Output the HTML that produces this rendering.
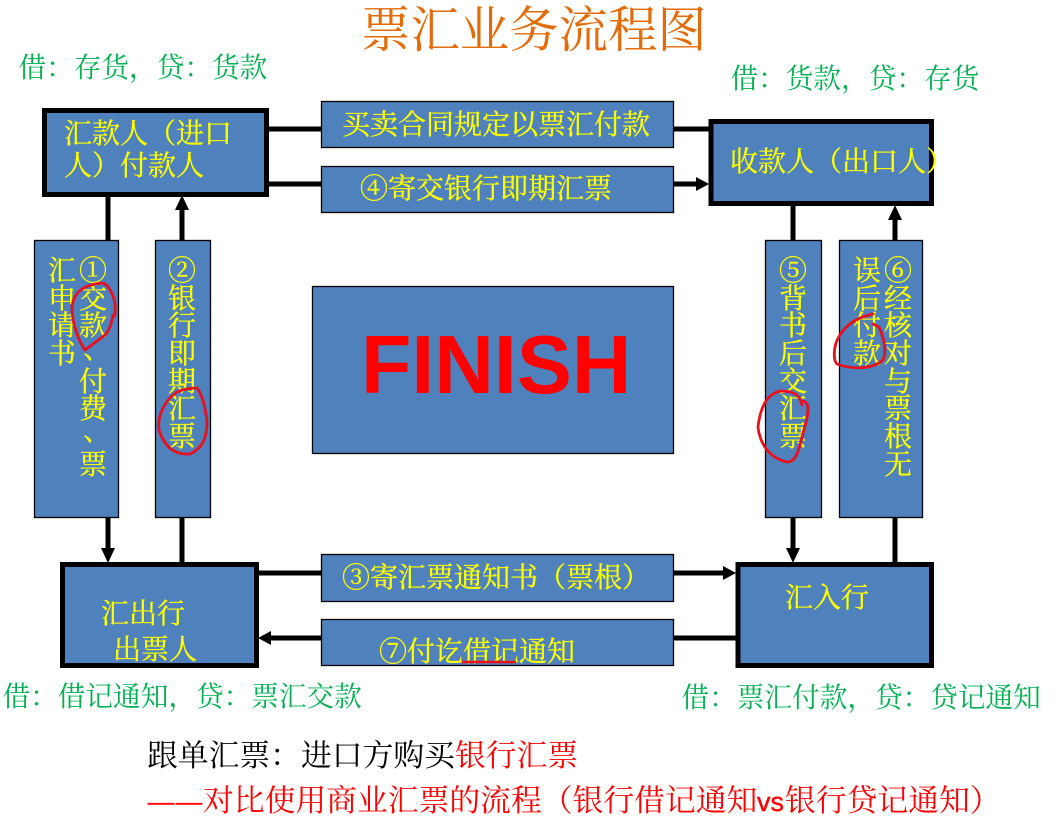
<!DOCTYPE html>
<html>
<head>
<meta charset="utf-8">
<style>
html,body{margin:0;padding:0;background:#fff;width:1058px;height:820px;overflow:hidden}
svg{display:block}
text{font-family:"Liberation Serif","Noto Serif CJK SC",serif;white-space:pre}
.y{fill:#ffff00;font-size:28px;stroke:#ffff00;stroke-width:.35}
.v{text-anchor:middle}
.g{fill:#00b050;font-size:27.65px}
.f{font-size:30.8px}
.b{fill:#4f81bd;stroke:#000;stroke-width:1.3}
.t{fill:#4f81bd;stroke:#000;stroke-width:5}
.l{stroke:#000;stroke-width:5;fill:none}
.r{stroke:#e8101c;stroke-width:2.8;fill:none;stroke-linejoin:round;stroke-linecap:round}
</style>
</head>
<body>
<svg width="1058" height="820" viewBox="0 0 1058 820" xmlns="http://www.w3.org/2000/svg">
<!-- connectors -->
<path class="l" d="M269 129H321M674 129H709M269 184H321M674 184H698M108 197V240M108 517V550M182 209V240M182 517V562M793 206V240M793 517V550M895 218V240M895 517V562M259 573H321M674 573H724M271 638H321M674 638H736"/>
<polygon points="709,184 696,177 696,191"/>
<polygon points="736,573 723,566 723,580"/>
<polygon points="258,638 271,631 271,645"/>
<polygon points="182,195 175,210 189,210"/>
<polygon points="895,205 888,220 902,220"/>
<polygon points="108,563 101,548 115,548"/>
<polygon points="793,563 786,548 800,548"/>
<!-- thick boxes -->
<rect class="t" x="44.5" y="110.5" width="222" height="84"/>
<rect class="t" x="711" y="121.5" width="220.500" height="82"/>
<rect class="t" x="62.5" y="564.5" width="194" height="101"/>
<rect class="t" x="738" y="564.5" width="193.500" height="101"/>
<!-- thin boxes -->
<rect class="b" x="321.5" y="101.5" width="352" height="46"/>
<rect class="b" x="321.5" y="166.5" width="352" height="46"/>
<rect class="b" x="321.5" y="554.5" width="352" height="47"/>
<rect class="b" x="321.5" y="619.5" width="352" height="46"/>
<rect class="b" x="34.5" y="240.5" width="84" height="277"/>
<rect class="b" x="155.5" y="240.5" width="55" height="277"/>
<rect class="b" x="765.5" y="240.5" width="56" height="277"/>
<rect class="b" x="839.5" y="240.5" width="83" height="277"/>
<rect class="b" x="312.5" y="286.5" width="361" height="167"/>
<!-- title and accounting labels -->
<text x="361" y="47" style="font-size:49.4px;fill:#e36c0a">票汇业务流程图</text>
<text class="g" x="18.500" y="77">借：存货，贷：货款</text>
<text class="g" x="730.500" y="88">借：货款，贷：存货</text>
<text class="g" x="2.500" y="706">借：借记通知，贷：票汇交款</text>
<text class="g" x="681.500" y="707">借：票汇付款，贷：贷记通知</text>
<!-- box labels -->
<text class="y" x="64" y="143">汇款人（进口</text>
<text class="y" x="64" y="175">人）付款人</text>
<text class="y" x="730" y="171">收款人（出口人）</text>
<text class="y" x="342" y="134">买卖合同规定以票汇付款</text>
<text class="y" x="360" y="198">④寄交银行即期汇票</text>
<text class="y" x="342" y="587">③寄汇票通知书（票根）</text>
<text class="y" x="379" y="661">⑦付讫借记通知</text>
<text class="y" x="101" y="623">汇出行</text>
<text class="y" x="113" y="659">出票人</text>
<text class="y" x="785" y="607">汇入行</text>
<!-- vertical labels -->
<text class="y v" x="93 93 93 97 93 93 97 93" y="280 308 335 358 391 418 440 474">①交款、付费、票</text>
<text class="y v" x="62 62 62 62" y="280 308 335 363">汇申请书</text>
<text class="y v" x="182 182 182 182 182 182 182" y="280 308 335 363 391 418 446">②银行即期汇票</text>
<text class="y v" x="793 793 793 793 793 793 793" y="280 308 335 363 391 418 446">⑤背书后交汇票</text>
<text class="y v" x="898 898 898 898 898 898 898 898" y="280 308 335 363 391 418 446 474">⑥经核对与票根无</text>
<text class="y v" x="867 867 867 867" y="280 308 335 363">误后付款</text>
<!-- center -->
<text x="361" y="393" style="font-family:'Liberation Sans',sans-serif;font-weight:bold;font-size:82.500px;fill:#ff0000">FINISH</text>
<!-- footer -->
<text class="f" x="147" y="766" fill="#000">跟单汇票：进口方购买<tspan fill="#ff0000">银行汇票</tspan></text>
<text x="148 176" y="810" style="font-size:26px;fill:#ff0000;stroke:#ff0000;stroke-width:.5">——</text>
<text class="f" x="203" y="811" fill="#ff0000">对比使用商业汇票的流程（银行借记通知</text>
<text x="757" y="811" style="font-family:'Liberation Sans',sans-serif;font-size:27px;fill:#ff0000;stroke:#ff0000;stroke-width:.4">vs</text>
<text class="f" x="785" y="811" fill="#ff0000">银行贷记通知）</text>
<!-- red hand-drawn marks -->
<path class="r" d="M102 283C110 284 115 300 115 305C116 317 113 318 113 315C111 326 108 332 105 335L85 350C78 340 73 325 72 310C72 295 80 285 102 283Z"/>
<path class="r" d="M197 388C203 395 207 415 207 425C206 440 202 448 190 454C175 455 165 448 159 430C157 415 165 400 177 392C184 389 190 388 197 388Z"/>
<path class="r" d="M802 405C800 395 795 391 780 391C765 395 760 410 758 427C760 445 770 458 787 462C795 462 798 455 803 433C807 420 811 405 805 402L803 401"/>
<path class="r" d="M873 314C860 317 848 322 840 335C833 345 833 360 837 364C850 369 870 370 882 361C887 355 885 340 879 327L873 324"/>
<path d="M462 662H516" stroke="#e8101c" stroke-width="2.5"/>
</svg>
</body>
</html>
